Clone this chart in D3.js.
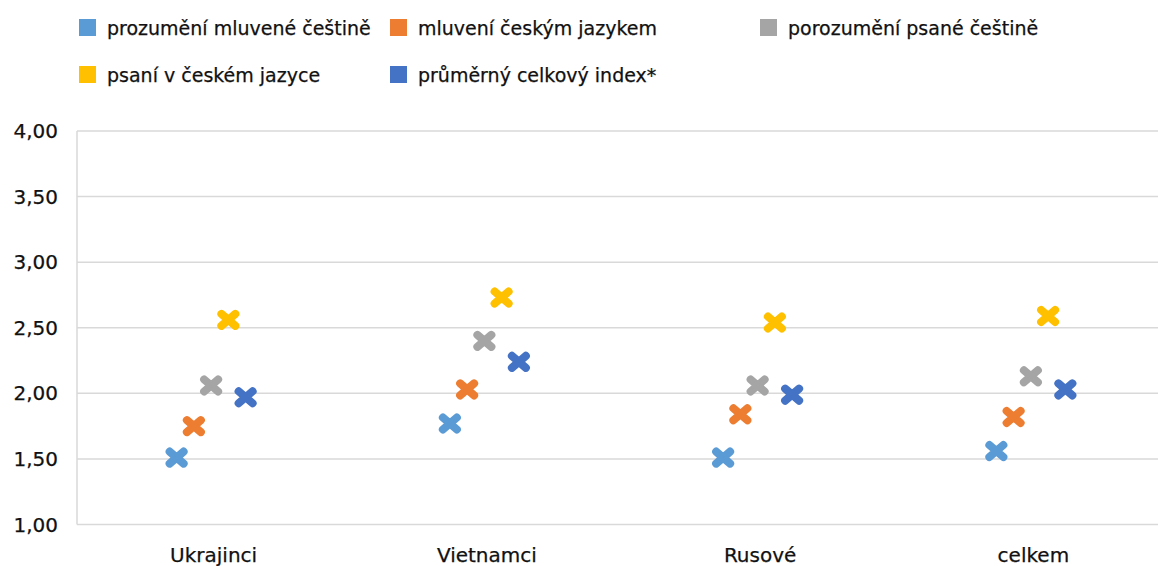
<!DOCTYPE html>
<meta charset="utf-8">
<style>
body { margin: 0; background: #fff; }
text { font-family: "DejaVu Sans", Verdana, sans-serif; fill: #111; stroke: #111; stroke-width: 0.25px; }
.grid line { stroke: #d9d9d9; stroke-width: 1.5px; }
</style>
<body>
<svg></svg>
</body>
<script src="https://cdn.jsdelivr.net/npm/d3@7"></script>
<script>

var categories = ["Ukrajinci", "Vietnamci", "Rusové", "celkem"];
var seriesNames = ["prozumění mluvené češtině", "mluvení českým jazykem", "porozumění psané češtině",
                   "psaní v českém jazyce", "průměrný celkový index*"];
var colors = ["#5b9bd5", "#ed7d31", "#a5a5a5", "#ffc000", "#4472c4"];

var prozumeni = [1.51, 1.77, 1.51, 1.56];
var mluveni   = [1.75, 2.03, 1.84, 1.82];
var porozumeniPsane = [2.06, 2.40, 2.06, 2.13];
var psani     = [2.56, 2.73, 2.54, 2.59];
var index     = [1.97, 2.24, 1.99, 2.03];
var seriesValues = [prozumeni, mluveni, porozumeniPsane, psani, index];

var yTicks = [1.0, 1.5, 2.0, 2.5, 3.0, 3.5, 4.0];

var width = 1158, height = 566;
var svg = d3.select("svg").attr("width", width).attr("height", height);

var x = d3.scaleBand().domain(categories).range([77, 1170]);
var inner = d3.scalePoint().domain(d3.range(seriesNames.length)).range([-37, 32]);
var y = d3.scaleLinear().domain([1, 4]).range([524.5, 131]);

// gridlines
svg.append("g").attr("class", "grid")
  .selectAll("line")
  .data(yTicks)
  .enter().append("line")
    .attr("x1", 77).attr("x2", width)
    .attr("y1", function(d) { return y(d); })
    .attr("y2", function(d) { return y(d); });

svg.append("line")
    .attr("x1", 77).attr("x2", 77)
    .attr("y1", y(4)).attr("y2", y(1))
    .attr("stroke", "#d9d9d9").attr("stroke-width", 1.5);

// y labels
svg.append("g")
  .selectAll("text")
  .data(yTicks)
  .enter().append("text")
    .attr("x", 58)
    .attr("y", function(d) { return y(d); })
    .attr("dy", "0.35em")
    .attr("text-anchor", "end")
    .style("font-size", "20px")
    .text(function(d) { return d3.format(".2f")(d).replace(".", ","); });

// x labels
svg.append("g")
  .selectAll("text")
  .data(categories)
  .enter().append("text")
    .attr("x", function(d) { return x(d) + x.bandwidth() / 2; })
    .attr("y", 562)
    .attr("text-anchor", "middle")
    .style("font-size", "20px")
    .text(function(d) { return d; });

// markers
var cross = "M-7,-6L7,6M-7,6L7,-6";
seriesValues.forEach(function(vals, si) {
  svg.append("g")
    .selectAll("path")
    .data(vals)
    .enter().append("path")
      .attr("d", cross)
      .attr("transform", function(d, i) {
        return "translate(" + (x(categories[i]) + x.bandwidth() / 2 + inner(si)) + "," + y(d) + ")";
      })
      .attr("fill", "none")
      .attr("stroke", colors[si])
      .attr("stroke-width", 8)
      .attr("stroke-linecap", "round");
});

// legend
var legendPos = [[79, 28], [390, 28], [760, 28], [79, 75], [390, 75]];
var legend = svg.append("g")
  .selectAll("g")
  .data(seriesNames)
  .enter().append("g")
    .attr("transform", function(d, i) { return "translate(" + legendPos[i][0] + "," + legendPos[i][1] + ")"; });

legend.append("rect")
    .attr("x", 0).attr("y", -9)
    .attr("width", 17).attr("height", 17)
    .attr("fill", function(d, i) { return colors[i]; });

legend.append("text")
    .attr("x", 28)
    .attr("y", 0)
    .attr("dy", "0.35em")
    .style("font-size", "19px")
    .text(function(d) { return d; });

</script>
